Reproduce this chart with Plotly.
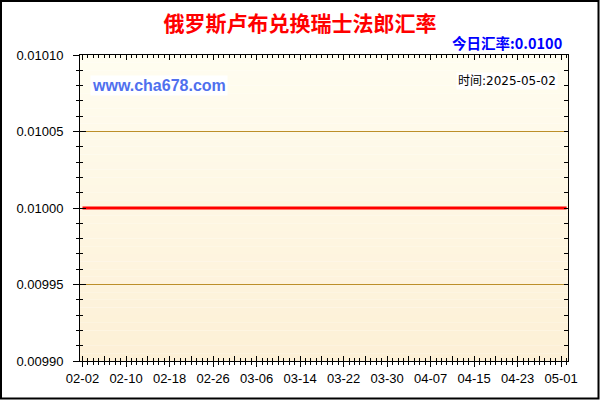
import plotly.graph_objects as go

# Data (flat rate over the period)
dates = ["2025-02-02", "2025-02-10", "2025-02-18", "2025-02-26", "2025-03-06",
         "2025-03-14", "2025-03-22", "2025-03-30", "2025-04-07", "2025-04-15",
         "2025-04-23", "2025-05-01", "2025-05-02"]
rates = [0.0100, 0.0100, 0.0100, 0.0100, 0.0100, 0.0100, 0.0100,
         0.0100, 0.0100, 0.0100, 0.0100, 0.0100, 0.0100]

title_text = "俄罗斯卢布兑换瑞士法郎汇率"
today_text = "今日汇率:0.0100"
site_text = "www.cha678.com"
time_text = "时间:2025-05-02"

x_range = ["2025-02-01 13:00", "2025-05-02 06:00"]
y_range = [0.00990, 0.01010]
DAY = 86400000

# plot area in pixels
L, R, T, B = 80, 568, 55, 361
W, H = R - L, B - T


def px(x):
    return (x - L) / W


def py(y):
    return (B - y) / H


fig = go.Figure()
fig.add_trace(go.Scatter(x=dates, y=rates, mode="lines",
                         line=dict(color="#FF0000", width=3),
                         showlegend=False, hoverinfo="x+y"))
# invisible traces so the extra tick axes get drawn
fig.add_trace(go.Scatter(x=dates, y=rates, xaxis="x2", yaxis="y2", mode="lines",
                         line=dict(width=0), opacity=0, showlegend=False, hoverinfo="skip"))
fig.add_trace(go.Scatter(x=dates, y=rates, xaxis="x3", yaxis="y3", mode="lines",
                         line=dict(width=0), opacity=0, showlegend=False, hoverinfo="skip"))

# vertical gradient background
top_c = (255, 253, 240)
bot_c = (253, 240, 214)
n = 40
shapes = []
for i in range(n):
    t = i / (n - 1)
    c = tuple(round(bot_c[k] + (top_c[k] - bot_c[k]) * t) for k in range(3))
    shapes.append(dict(type="rect", xref="paper", yref="paper", layer="below",
                       x0=0, x1=1, y0=i / n, y1=(i + 1) / n,
                       fillcolor="rgb(%d,%d,%d)" % c, line=dict(width=0)))
# outer frame
shapes.append(dict(type="rect", xref="paper", yref="paper",
                   x0=px(1), x1=px(598.5), y0=py(398.5), y1=py(1),
                   line=dict(color="black", width=2)))
fig.update_layout(shapes=shapes)

tick_font = dict(family="Liberation Sans, Arial", size=13, color="black")

fig.update_layout(
    width=600, height=400,
    margin=dict(l=L, r=600 - R, t=T, b=400 - B),
    paper_bgcolor="white",
    plot_bgcolor="rgba(0,0,0,0)",
    title=dict(text="<b>" + title_text + "</b>", x=0.5, xref="container",
               xanchor="center", y=1 - 24 / 400, yref="container", yanchor="middle",
               font=dict(family="Noto Sans CJK SC", size=21, color="#FF0000")),
    xaxis=dict(type="date", range=x_range, tick0="2025-02-02", dtick=8 * DAY,
               tickformat="%m-%d", ticks="outside", ticklen=5, tickcolor="black",
               showline=True, linecolor="black", linewidth=1, showgrid=False,
               zeroline=False, tickfont=tick_font,
               minor=dict(ticks="outside", dtick=DAY, tick0="2025-02-02",
                          ticklen=3, tickcolor="black", showgrid=False)),
    xaxis2=dict(type="date", range=x_range, overlaying="x", side="bottom",
                anchor="y", tick0="2025-02-02", dtick=4 * DAY, ticks="inside",
                ticklen=5, tickcolor="black", showticklabels=False, showgrid=False,
                showline=False, zeroline=False,
                minor=dict(ticks="inside", dtick=DAY, tick0="2025-02-02",
                           ticklen=3, tickcolor="black", showgrid=False)),
    xaxis3=dict(type="date", range=x_range, overlaying="x", side="top",
                anchor="y", tick0="2025-02-02", dtick=8 * DAY, ticks="inside",
                ticklen=5, tickcolor="black", showticklabels=False, showgrid=False,
                showline=True, linecolor="black", linewidth=1, zeroline=False,
                minor=dict(ticks="inside", dtick=DAY, tick0="2025-02-02",
                           ticklen=3, tickcolor="black", showgrid=False)),
    yaxis=dict(range=y_range, dtick=0.00005, tick0=0.0099, tickformat=".5f",
               ticks="outside", ticklen=6, tickcolor="black", ticklabelstandoff=7,
               showline=True, linecolor="black", linewidth=1,
               showgrid=True, gridcolor="#BC8F2A", gridwidth=1, zeroline=False,
               tickfont=tick_font,
               minor=dict(ticks="outside", dtick=0.00001, ticklen=3,
                          tickcolor="black", showgrid=False)),
    yaxis2=dict(range=y_range, overlaying="y", side="left", anchor="x",
                dtick=0.00005, tick0=0.0099, ticks="inside", ticklen=6,
                tickcolor="black", showticklabels=False, showgrid=False,
                showline=False, zeroline=False,
                minor=dict(ticks="inside", dtick=0.00001, ticklen=3,
                           tickcolor="black", showgrid=False)),
    yaxis3=dict(range=y_range, overlaying="y", side="right", anchor="x",
                dtick=0.00001, tick0=0.0099, ticks="inside", ticklen=4,
                tickcolor="black", showticklabels=False, showgrid=False,
                showline=True, linecolor="black", linewidth=1, zeroline=False),
    annotations=[
        dict(text="<b>" + today_text + "</b>", xref="paper", yref="paper",
             x=px(564), y=py(43), xanchor="right", yanchor="middle", showarrow=False,
             font=dict(family="Noto Sans CJK SC", size=14.5, color="#0000FF")),
        dict(text="<b>" + site_text + "</b>", xref="paper", yref="paper",
             x=px(90), y=py(85), xanchor="left", yanchor="middle", showarrow=False,
             bgcolor="white", borderpad=1,
             font=dict(family="Liberation Sans, Arial", size=16, color="#5070EE")),
        dict(text=time_text, xref="paper", yref="paper",
             x=px(558), y=py(81), xanchor="right", yanchor="middle", showarrow=False,
             bgcolor="white", borderpad=1,
             font=dict(family="DejaVu Sans, Noto Sans CJK SC", size=12, color="black")),
    ],
)

# drop the page's default 8px body margin so the chart sits at 0,0
fig.write_html("out.html", config={"displayModeBar": False},
               post_script="document.body.style.margin='0';")
